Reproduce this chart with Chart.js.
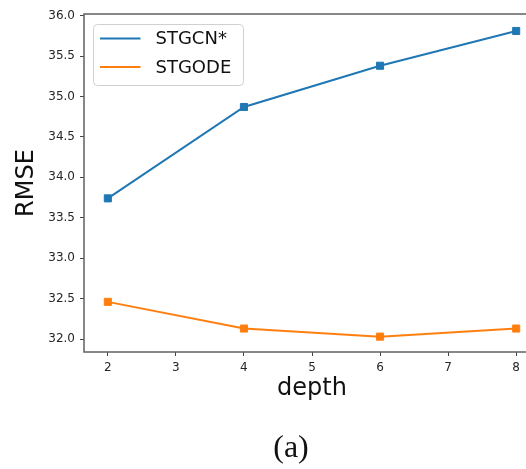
<!DOCTYPE html>
<html>
<head>
<meta charset="utf-8">
<script src="https://cdn.jsdelivr.net/npm/chart.js@4"></script>
<style>
	html, body { margin: 0; padding: 0; background: #fff; overflow: hidden; }
	#wrap { position: absolute; left: 0; top: 0; width: 560px; height: 469px; }
</style>
</head>
<body>
<div id="wrap"><canvas id="chart" width="560" height="469"></canvas></div>
<script>
// values
var depths = [2, 4, 6, 8];
var stgcnValues = [33.74, 34.87, 35.38, 35.81];
var stgodeValues = [32.46, 32.13, 32.03, 32.13];
var xTicks = [2, 3, 4, 5, 6, 7, 8];
var yTicks = [32.0, 32.5, 33.0, 33.5, 34.0, 34.5, 35.0, 35.5, 36.0];
var seriesNames = ["STGCN*", "STGODE"];
var seriesColors = ["#1f77b4", "#ff7f0e"];

function toPoints(xs, ys)
{
	var pts = [];
	for (var i = 0; i < xs.length; i++)
	{
		pts.push({x: xs[i], y: ys[i]});
	}
	return pts;
}

function makeDataset(label, values, color)
{
	return {
		label: label,
		data: toPoints(depths, values),
		borderColor: color,
		backgroundColor: color,
		borderWidth: 2,
		pointStyle: 'rect',
		pointRadius: 5,
		pointBorderWidth: 1,
		pointHoverRadius: 5,
		tension: 0,
		fill: false
	};
}

// frame, legend box and caption
var framePlugin = {
	id: 'frame',
	beforeDatasetsDraw: function(chart)
	{
		var ctx = chart.ctx, a = chart.chartArea;
		ctx.save();
		ctx.strokeStyle = '#606060';
		ctx.lineWidth = 1.5;
		ctx.strokeRect(a.left, a.top, a.right - a.left, a.bottom - a.top);
		ctx.restore();
	},
	afterDraw: function(chart)
	{
		var ctx = chart.ctx, a = chart.chartArea;
		ctx.save();
		// legend
		var bx = a.left + 9.5, by = a.top + 10.5, bw = 150, bh = 61;
		ctx.beginPath();
		ctx.roundRect(bx, by, bw, bh, 4);
		ctx.fillStyle = 'rgba(255,255,255,0.85)';
		ctx.fill();
		ctx.strokeStyle = '#d0d0d0';
		ctx.lineWidth = 1;
		ctx.stroke();
		ctx.font = '18px "DejaVu Sans"';
		ctx.textBaseline = 'middle';
		ctx.textAlign = 'left';
		chart.data.datasets.forEach(function(ds, i)
		{
			var ly = by + 14 + i * 28.5;
			ctx.beginPath();
			ctx.moveTo(bx + 6.5, ly);
			ctx.lineTo(bx + 47, ly);
			ctx.strokeStyle = ds.borderColor;
			ctx.lineWidth = 2;
			ctx.stroke();
			ctx.fillStyle = '#111';
			ctx.fillText(ds.label, bx + 62, ly + 1);
		});
		// caption
		ctx.font = '32px "Liberation Serif"';
		ctx.textAlign = 'center';
		ctx.fillStyle = '#111';
		ctx.fillText('(a)', 291, 449);
		ctx.restore();
	}
};

var tickFont = {family: 'DejaVu Sans', size: 12};

new Chart(document.getElementById('chart'), {
	type: 'line',
	data: {
		datasets: [
			makeDataset(seriesNames[0], stgcnValues, seriesColors[0]),
			makeDataset(seriesNames[1], stgodeValues, seriesColors[1])
		]
	},
	options: {
		responsive: false,
		maintainAspectRatio: false,
		animation: false,
		layout: { padding: {top: 14, right: 20, bottom: 66, left: 0} },
		plugins: {
			legend: { display: false },
			tooltip: { enabled: false }
		},
		scales: {
			x: {
				type: 'linear',
				min: 1.65,
				max: 8.35,
				afterBuildTicks: function(scale)
				{
					scale.ticks = xTicks.map(function(v) { return {value: v}; });
				},
				afterFit: function(scale) { scale.height = 51; },
				border: { display: false },
				grid: { display: true, drawOnChartArea: false, drawTicks: true, tickLength: 4, tickColor: '#444' },
				ticks: { font: tickFont, color: '#262626', padding: 5, maxRotation: 0 },
				title: { display: true, text: 'depth', font: {family: 'DejaVu Sans', size: 24}, color: '#111', padding: {top: 0, bottom: 0} }
			},
			y: {
				type: 'linear',
				min: 31.84,
				max: 36.02,
				afterBuildTicks: function(scale)
				{
					scale.ticks = yTicks.map(function(v) { return {value: v}; });
				},
				afterFit: function(scale) { scale.width = 84; },
				border: { display: false },
				grid: { display: true, drawOnChartArea: false, drawTicks: true, tickLength: 4, tickColor: '#444' },
				ticks: {
					font: tickFont,
					color: '#262626',
					padding: 5,
					callback: function(v) { return Number(v).toFixed(1); }
				},
				title: { display: true, text: 'RMSE', font: {family: 'DejaVu Sans', size: 24}, color: '#111', padding: {top: 12, bottom: 0} }
			}
		}
	},
	plugins: [framePlugin]
});
</script>
</body>
</html>
